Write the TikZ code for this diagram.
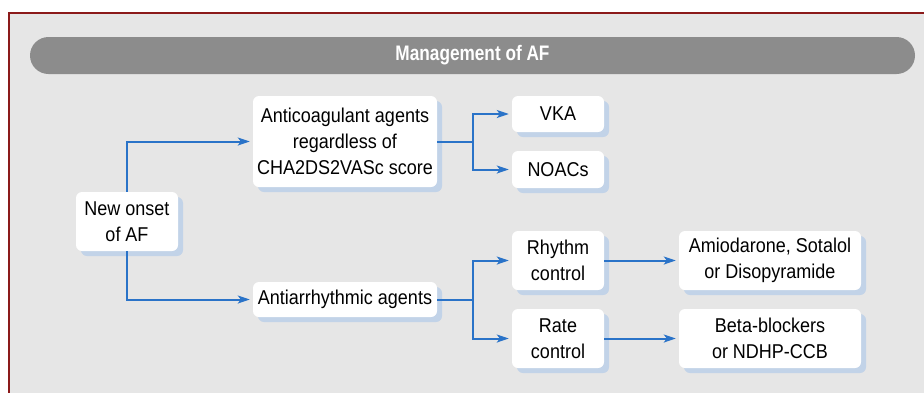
\documentclass[tikz,border=0pt]{standalone}
\usepackage{fontspec}
\setmainfont{Liberation Sans}[FakeStretch=0.9]
\newfontfamily\titrefont{Liberation Sans}[FakeStretch=0.82]
\usetikzlibrary{arrows.meta,shadows}

\definecolor{fond}{HTML}{E6E6E6}
\definecolor{bandeau}{HTML}{8C8C8C}
\definecolor{cadre}{HTML}{8B1A1A}
\definecolor{bleu}{HTML}{2A73C8}
\definecolor{ombre}{HTML}{C2D3E8}

\begin{document}
\begin{tikzpicture}[
       x=1pt, y=-1pt,
       boite/.style={
         rectangle,
         rounded corners=6pt,
         fill=white,
         inner sep=0pt,
         align=center,
         font=\fontsize{20}{26}\selectfont,
         drop shadow={shadow xshift=5pt, shadow yshift=-5pt, fill=ombre, opacity=1}
       },
       fleche/.style={
         draw=bleu,
         line width=2pt,
         shorten >=3pt,
         -{Stealth[length=12pt,width=8pt,inset=3pt]}
       }
     ]

       \useasboundingbox (0,0) rectangle (924,392);
       \begin{scope}
         \clip (0,0) rectangle (924,392);
         \draw[cadre, line width=2pt, fill=fond] (9,13) rectangle (980,440);
       \end{scope}

       \node (titre) at (472.5,55.5) [rectangle, rounded corners=18.5pt, fill=bandeau,
         minimum width=885pt, minimum height=37pt, inner sep=0pt,
         text=white, font=\titrefont\bfseries\fontsize{21}{24}\selectfont]
         {Management of AF};

       \node (onset) at (127,221.5) [boite, minimum width=102pt, minimum height=59pt]
         {New onset\\of AF};
       \node (anticoag) at (345,141.5) [boite, minimum width=184pt, minimum height=91pt]
         {Anticoagulant agents\\regardless of\\CHA2DS2VASc score};
       \node (antiarr) at (345,299.5) [boite, minimum width=184pt, minimum height=35pt]
         {Antiarrhythmic agents};
       \node (vka) at (558,114) [boite, minimum width=92pt, minimum height=36pt] {VKA};
       \node (noac) at (558,169.5) [boite, minimum width=92pt, minimum height=37pt] {NOACs};
       \node (rhythm) at (558,260.5) [boite, minimum width=92pt, minimum height=59pt]
         {Rhythm\\control};
       \node (rate) at (558,338.5) [boite, minimum width=92pt, minimum height=59pt]
         {Rate\\control};
       \node (amio) at (770,260.5) [boite, minimum width=182pt, minimum height=59pt]
         {Amiodarone, Sotalol\\or Disopyramide};
       \node (beta) at (770,338.5) [boite, minimum width=182pt, minimum height=59pt]
         {Beta-blockers\\or NDHP-CCB};

       \draw[fleche] (onset.north) |- (anticoag.west);
       \draw[fleche] (onset.south) |- (antiarr.west);

       \draw[fleche] (anticoag.east) -- ([xshift=36pt]anticoag.east) |- (vka.west);
       \draw[fleche] ([xshift=36pt]anticoag.east) |- (noac.west);

       \draw[fleche] (antiarr.east) -- ([xshift=36pt]antiarr.east) |- (rhythm.west);
       \draw[fleche] ([xshift=36pt]antiarr.east) |- (rate.west);

       \draw[fleche] (rhythm) -- (amio);
       \draw[fleche] (rate) -- (beta);

\end{tikzpicture}
\end{document}
